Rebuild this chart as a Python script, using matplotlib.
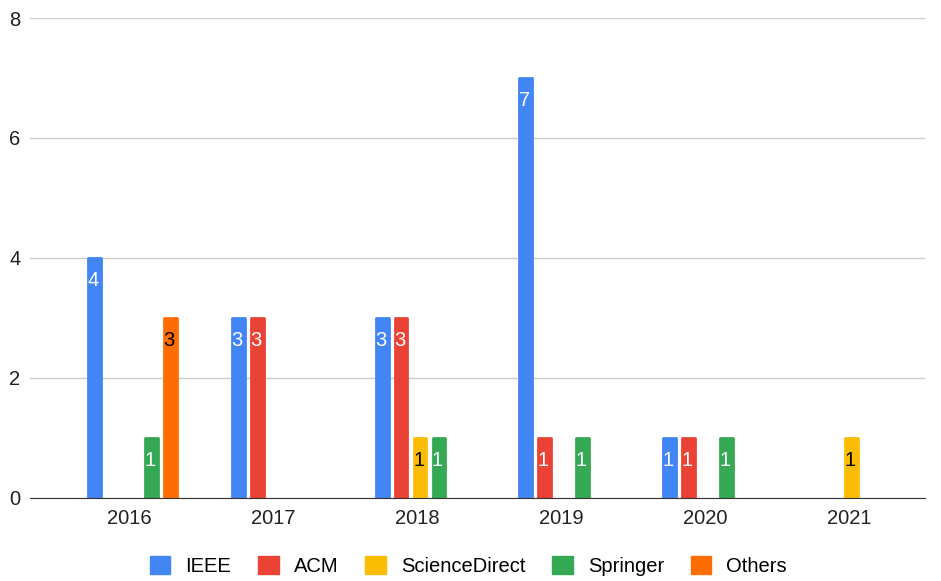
import matplotlib.pyplot as plt
import numpy as np
from matplotlib.patches import Patch

plt.rcParams['font.family'] = ['Liberation Sans', 'DejaVu Sans']

years = ['2016', '2017', '2018', '2019', '2020', '2021']
series = ['IEEE', 'ACM', 'ScienceDirect', 'Springer', 'Others']
ieee = [4, 3, 3, 7, 1, 0]
acm = [0, 3, 3, 1, 1, 0]
sciencedirect = [0, 0, 1, 0, 0, 1]
springer = [1, 0, 1, 1, 1, 0]
others = [3, 0, 0, 0, 0, 0]

colors = ['#4285f4', '#ea4335', '#fbbc04', '#34a853', '#ff6d01']
label_colors = ['white', 'white', 'black', 'white', 'black']

fs = 14.5

fig = plt.figure(figsize=(9.41, 5.81), dpi=100)
ax = fig.add_axes([0.032, 0.143, 0.951, 0.826])

x = np.arange(len(years))
slot = 0.132
width = 0.09

for i, (vals, c, lc) in enumerate(zip([ieee, acm, sciencedirect, springer, others],
                                      colors, label_colors)):
    pos = x + (i - 2) * slot + 0.02
    for xp, v in zip(pos, vals):
        if v == 0:
            continue
        ax.bar(xp, v, width=width, color=c, edgecolor=c, linewidth=2,
               joinstyle='round', zorder=3)
        ax.text(xp - 0.01, v - 0.37, str(v), ha='center', va='center',
                color=lc, fontsize=fs, zorder=4)

ax.set_xlim(-0.69, 5.53)
ax.set_ylim(0, 8)
ax.set_yticks([0, 2, 4, 6, 8])
ax.set_xticks(x)
ax.set_xticklabels(years)
ax.tick_params(axis='both', length=0, labelsize=fs, colors='#222222')
ax.tick_params(axis='y', pad=7)
ax.tick_params(axis='x', pad=8)
ax.yaxis.grid(True, color='#cccccc', linewidth=1, zorder=0)
for s in ['top', 'right', 'left']:
    ax.spines[s].set_visible(False)
ax.spines['bottom'].set_color('#333333')
ax.spines['bottom'].set_zorder(5)

handles = [Patch(facecolor=c, edgecolor=c, linewidth=1, joinstyle='round')
           for c in colors]
fig.legend(handles, series, loc='center', bbox_to_anchor=(0.498, 0.026),
           ncol=5, frameon=False, fontsize=fs, handlelength=1.0,
           handleheight=1.0, handletextpad=0.75, columnspacing=1.35)

fig.savefig('out.png', dpi=100)
